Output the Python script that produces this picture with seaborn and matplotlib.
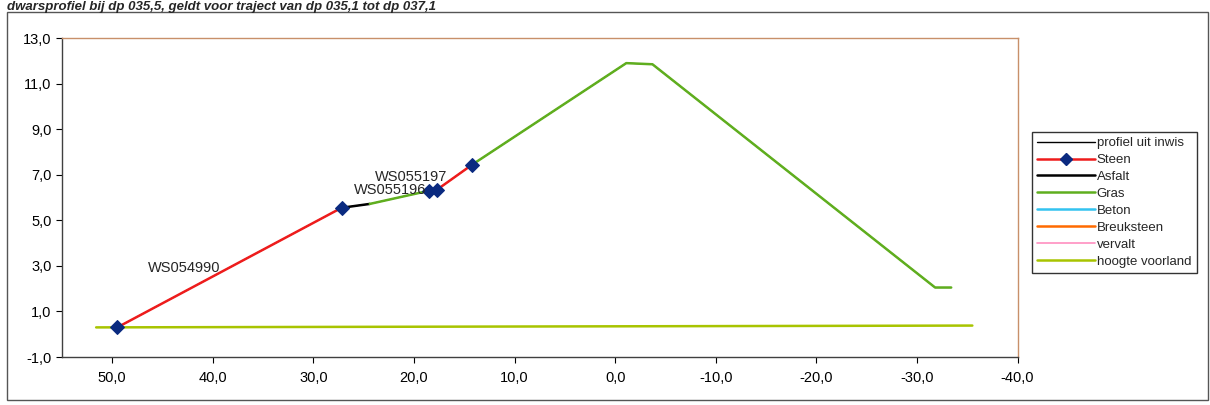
import numpy as np
import pandas as pd
import matplotlib
matplotlib.use("Agg")
import matplotlib.pyplot as plt
from matplotlib.patches import Rectangle
from matplotlib.lines import Line2D
from matplotlib.ticker import FuncFormatter
import seaborn as sns

# --- data ---
profiel_x = [49.5, 27.2, 24.4, 18.5, 17.7, 14.2, -1.1, -3.7, -31.8, -33.4]
profiel_y = [0.3, 5.55, 5.72, 6.3, 6.35, 7.45, 11.9, 11.85, 2.05, 2.05]

steen1_x = [49.5, 27.2]
steen1_y = [0.3, 5.55]
steen2_x = [18.5, 17.7, 14.2]
steen2_y = [6.3, 6.35, 7.45]
asfalt_x = [27.2, 24.4]
asfalt_y = [5.55, 5.72]
gras1_x = [24.4, 18.5]
gras1_y = [5.72, 6.3]
gras2_x = [14.2, -1.1, -3.7, -31.8, -33.4]
gras2_y = [7.45, 11.9, 11.85, 2.05, 2.05]
voorland_x = [51.6, -35.5]
voorland_y = [0.3, 0.38]

labels_txt = ["WS054990", "WS055196", "WS055197"]
labels_x = [42.8, 22.4, 20.3]
labels_y = [2.9, 6.35, 6.9]

title = "dwarsprofiel bij dp 035,5, geldt voor traject van dp 035,1 tot dp 037,1"

# --- style ---
sns.set_style("white")
plt.rcParams['font.family'] = ['Liberation Sans', 'DejaVu Sans']

fig = plt.figure(figsize=(12.1, 4.05), dpi=100)
ax = fig.add_axes([0.0512, 0.1185, 0.7898, 0.7875])

red = '#ee1c1c'
green = '#5fae1e'
navy = '#0a2a80'

def seg(x, y, color, lw, label=None, marker=None, z=2):
    d = pd.DataFrame({'x': x, 'y': y})
    sns.lineplot(data=d, x='x', y='y', sort=False, estimator=None, ax=ax,
                 color=color, linewidth=lw, label=label, marker=marker,
                 markersize=7, markerfacecolor=navy, markeredgecolor=navy,
                 legend=False, zorder=z)

seg(profiel_x, profiel_y, 'black', 0.8, z=1)
seg(voorland_x, voorland_y, '#a8c400', 1.8)
seg(asfalt_x, asfalt_y, 'black', 1.8)
seg(gras1_x, gras1_y, green, 1.8)
seg(gras2_x, gras2_y, green, 1.8)
seg(steen1_x, steen1_y, red, 1.8, marker='D', z=3)
seg(steen2_x, steen2_y, red, 1.8, marker='D', z=3)

for t, x, y in zip(labels_txt, labels_x, labels_y):
    ax.text(x, y, t, ha='center', va='center', fontsize=10.5)

ax.set_xlim(55, -40)
ax.set_ylim(-1, 13)
ax.set_xticks(np.arange(50, -41, -10))
ax.set_yticks(np.arange(-1, 14, 2))
fmt = FuncFormatter(lambda v, p: f"{v:.1f}".replace('.', ','))
ax.xaxis.set_major_formatter(fmt)
ax.yaxis.set_major_formatter(fmt)
ax.tick_params(axis='both', direction='out', length=4, width=0.8, labelsize=10.5,
               bottom=True, left=True, colors='black')
ax.tick_params(axis='x', pad=6)
ax.set_xlabel('')
ax.set_ylabel('')
for s in ['left', 'bottom']:
    ax.spines[s].set_color('#404040')
    ax.spines[s].set_linewidth(1)
for s in ['top', 'right']:
    ax.spines[s].set_color('#c8906a')
    ax.spines[s].set_linewidth(1)

# legend
handles = [
    Line2D([], [], color='black', lw=1),
    Line2D([], [], color=red, lw=1.8, marker='D', markersize=6,
           markerfacecolor=navy, markeredgecolor=navy),
    Line2D([], [], color='black', lw=1.8),
    Line2D([], [], color=green, lw=1.8),
    Line2D([], [], color='#33c3f0', lw=1.8),
    Line2D([], [], color='#ff6a00', lw=1.8),
    Line2D([], [], color='#ff8fc0', lw=1.2),
    Line2D([], [], color='#a8c400', lw=1.8),
]
names = ["profiel uit inwis", "Steen", "Asfalt", "Gras", "Beton",
         "Breuksteen", "vervalt", "hoogte voorland"]
leg = fig.legend(handles, names, loc='upper left', bbox_to_anchor=(0.853, 0.675),
                 fontsize=9.5, frameon=True, fancybox=False, handlelength=4.4,
                 handletextpad=0.1, labelspacing=0.36, borderpad=0.4,
                 borderaxespad=0)
leg.get_frame().set_edgecolor('black')
leg.get_frame().set_linewidth(1)

fig.patches.append(Rectangle((0.006, 0.012), 0.992, 0.958, transform=fig.transFigure,
                             fill=False, edgecolor='#555555', linewidth=1))
fig.text(0.006, 0.998, title, ha='left', va='top', fontsize=9.5,
         fontweight='bold', fontstyle='italic')

fig.savefig('out.png', dpi=100)
